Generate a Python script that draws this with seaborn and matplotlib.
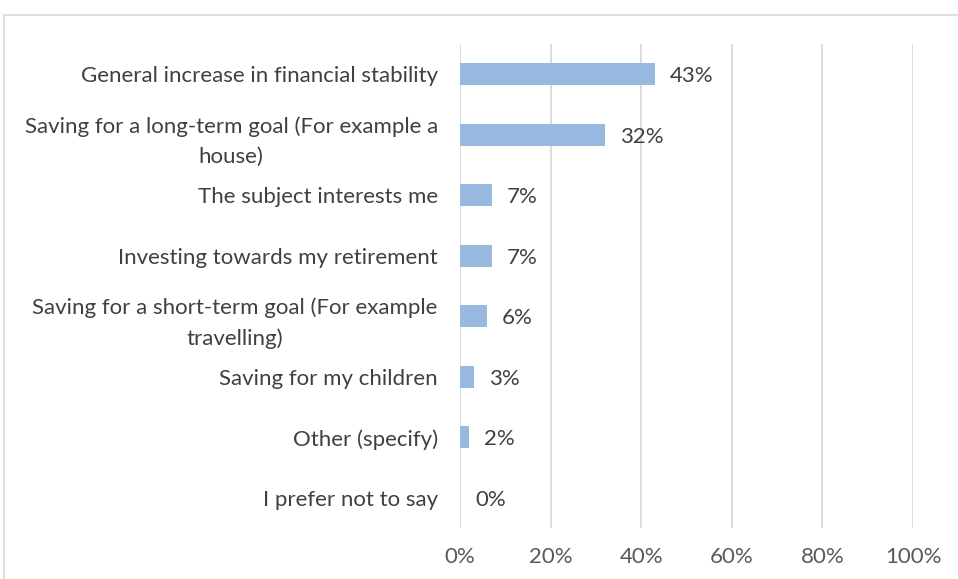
import matplotlib
matplotlib.use("Agg")
import matplotlib.pyplot as plt
import seaborn as sns
import pandas as pd
from matplotlib.patches import Rectangle

reasons = [
    "General increase in financial stability",
    "Saving for a long-term goal (For example a\nhouse)",
    "The subject interests me",
    "Investing towards my retirement",
    "Saving for a short-term goal (For example\ntravelling)",
    "Saving for my children",
    "Other (specify)",
    "I prefer not to say",
]
shares = [43, 32, 7, 7, 6, 3, 2, 0]
x_ticks = [0, 20, 40, 60, 80, 100]
x_tick_labels = ["0%", "20%", "40%", "60%", "80%", "100%"]

df = pd.DataFrame({"reason": reasons, "share": shares})

sns.set_theme(style="white")
plt.rcParams["font.family"] = ["Lato", "DejaVu Sans"]

FS = 16

fig = plt.figure(figsize=(9.58, 5.79), dpi=100)
ax = fig.add_axes([460 / 958, 1 - 528 / 579, (913 - 460) / 958, (528 - 44) / 579])

sns.barplot(data=df, x="share", y="reason", orient="h", color="#97B9E0",
            width=0.36, edgecolor="#97B9E0", linewidth=0, saturation=1,
            ax=ax, zorder=3)

ax.set_xlim(0, 100)
ax.set_xticks(x_ticks)
ax.set_xticklabels(x_tick_labels, fontsize=FS, color="#595959")
ax.tick_params(axis="x", length=0, pad=14)
ax.tick_params(axis="y", length=0, pad=16)
for lab in ax.get_yticklabels():
    lab.set_fontsize(FS)
    lab.set_color("#404040")
    lab.set_multialignment("center")
    lab.set_linespacing(1.6)
ax.set_xlabel("")
ax.set_ylabel("")
ax.grid(axis="x", color="#D9D9D9", linewidth=1.3, zorder=0)
ax.grid(axis="y", visible=False)
for s in ax.spines.values():
    s.set_visible(False)

for i, v in enumerate(shares):
    ax.annotate(f"{v}%", xy=(v, i), xytext=(15, -2), textcoords="offset pixels",
                va="center", ha="left", fontsize=FS, color="#404040")

# outer chart frame
fig.patches.append(Rectangle((4 / 958, -0.01), 1.0, 1 - 15 / 579 + 0.01,
                             transform=fig.transFigure, fill=False,
                             edgecolor="#D9D9D9", linewidth=1.2))

fig.savefig("out.png", dpi=100, facecolor="white")
